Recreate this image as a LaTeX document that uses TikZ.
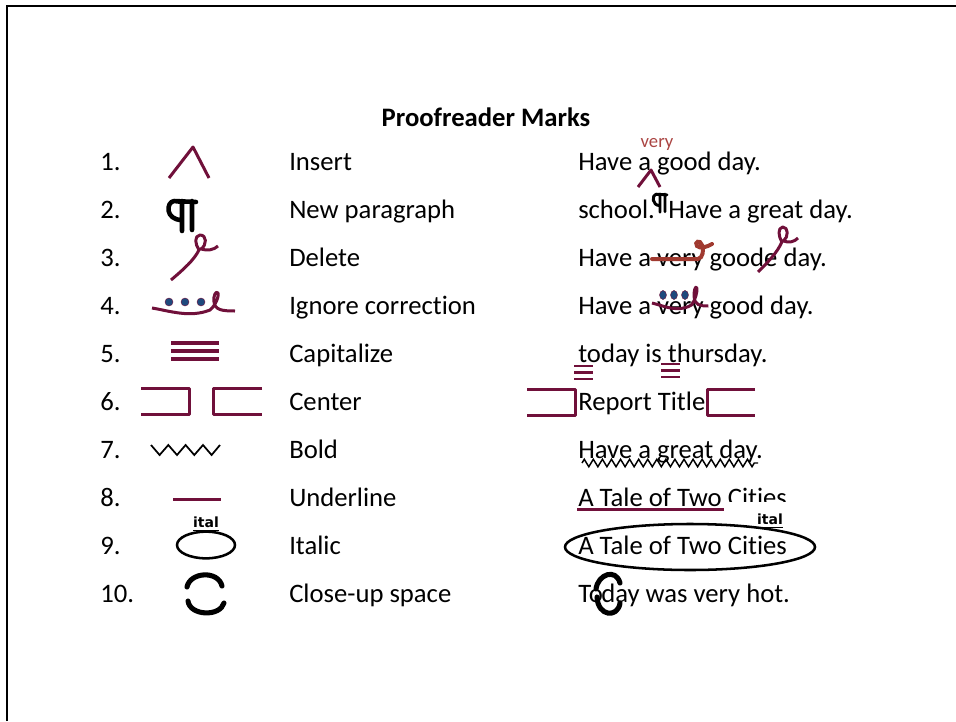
\documentclass[tikz,border=0pt]{standalone}
\usepackage{fontspec}
\setmainfont{Carlito}[Ligatures=CommonOff]
\newfontfamily\markfont{DejaVu Sans}
\usetikzlibrary{decorations.pathmorphing}
\definecolor{markred}{RGB}{112,16,58}
\definecolor{strikered}{RGB}{160,58,48}
\definecolor{dotblue}{RGB}{31,73,125}
\definecolor{insred}{RGB}{170,68,66}
\newcommand{\delpath}{(0,0) .. controls (13,-11) and (23,-20) .. (28,-30) .. controls (24,-36) and (23,-44) .. (29,-45) .. controls (36,-45) and (36,-35) .. (30,-31) .. controls (36,-29) and (43,-30) .. (47,-34)}
\newcommand{\parapath}{(17,3) -- (8,2) .. controls (0,3) and (-1,21) .. (16,21) (16,2) -- (16,32) (26,2) -- (26,31) (8,2) -- (30,3)}
\newcommand{\ignpath}{(0,0) .. controls (18,3) and (38,10) .. (58,2) .. controls (64,-3) and (67,-12) .. (66,-15) .. controls (64,-18) and (61,-12) .. (62,-6) .. controls (63,2) and (70,3) .. (83,3)}

\begin{document}
\begin{tikzpicture}[x=0.75pt, y=-0.75pt,
  txt/.style={inner sep=0pt, anchor=base west, font=\fontsize{20}{24}\selectfont},
  mk/.style={markred, line width=2.25pt, line join=round},
  blk/.style={black, line width=3.2pt, line cap=round, line join=round},
  dot/.style={fill=dotblue, draw=markred, line width=0.3pt}]
\useasboundingbox (0,0) rectangle (956,721);
\draw[line width=1.6pt] (7,721) -- (7,6) -- (956,6);
\node[inner sep=0pt, anchor=base, font=\bfseries\fontsize{20}{24}\selectfont] (title) at (486,126) {Proofreader Marks};
\node[txt] (n1) at (100,170) {1.};
\node[txt] (n2) at (100,218) {2.};
\node[txt] (n3) at (100,266) {3.};
\node[txt] (n4) at (100,314) {4.};
\node[txt] (n5) at (100,362) {5.};
\node[txt] (n6) at (100,410) {6.};
\node[txt] (n7) at (100,458) {7.};
\node[txt] (n8) at (100,506) {8.};
\node[txt] (n9) at (100,554) {9.};
\node[txt] (n10) at (100,602) {10.};
\node[txt] (d1) at (289,170) {Insert};
\node[txt] (d2) at (289,218) {New paragraph};
\node[txt] (d3) at (289,266) {Delete};
\node[txt] (d4) at (289,314) {Ignore correction};
\node[txt] (d5) at (289,362) {Capitalize};
\node[txt] (d6) at (289,410) {Center};
\node[txt] (d7) at (289,458) {Bold};
\node[txt] (d8) at (289,506) {Underline};
\node[txt] (d9) at (289,554) {Italic};
\node[txt] (d10) at (289,602) {Close-up space};
\draw[mk] (169,178) -- (193,147) -- (209,178);
\draw[blk, line width=3.4pt, shift={(166,199)}] \parapath;
\draw[mk, shift={(171,280)}] \delpath;
\draw[mk, shift={(152,308)}] \ignpath;
\fill[dot] (169,302) circle[radius=3pt] (185,302) circle[radius=3pt] (201,302) circle[radius=3pt];
\draw[mk, line width=2.4pt] (171,343) -- (219,343) (171,351) -- (219,351) (171,359) -- (219,359);
\draw[mk] (141,388) -- (189,388) -- (189,414) -- (141,414);
\draw[mk] (262,388) -- (213,388) -- (213,414) -- (262,414);
\draw[line width=1.3pt] (151,445) -- (159.6,455) -- (168.3,445) -- (177,455) -- (185.6,445) -- (194.3,455) -- (203,445) -- (211.6,455) -- (220,445);
\draw[mk] (173,499) -- (221,499);
\draw[line width=1.9pt] (206,545) ellipse[x radius=21.75pt, y radius=10pt];
\node[inner sep=0pt, font=\markfont\bfseries\fontsize{10.5}{12}\selectfont] (ital1) at (206,524) {\underline{ital}};
\draw[blk, line width=3.8pt] (187,587) .. controls (190,572) and (218,570) .. (222,586);
\draw[blk, line width=3.8pt] (188,601) .. controls (190,616) and (220,617) .. (224,603);
\node[txt] (e1) at (578,170) {Have a good day.};
\node[inner sep=0pt, anchor=base, text=insred, font=\fontsize{14}{16}\selectfont] (ins) at (657,147) {very};
\draw[mk] (638,187) -- (651,170) -- (660,187);
\node[txt] (e2a) at (578,218) {school.};
\node[txt] (e2b) at (668,218) {Have a great day.};
\draw[blk, line width=2.2pt, shift={(652,193)}, xscale=0.5, yscale=0.6] \parapath;
\node[txt] (e3) at (578,266) {Have a very goode day.};
\draw[strikered, line width=3pt, line cap=round] (652,259) -- (698,259) .. controls (703,258) and (704,250) .. (702,245) .. controls (700,239) and (694,242) .. (697,246) .. controls (700,249) and (707,247) .. (712,244);
\draw[mk, shift={(758,272)}, xscale=0.85] \delpath;
\node[txt] (e4) at (578,314) {Have a very good day.};
\draw[mk, shift={(652,303)}, xscale=0.68] \ignpath;
\fill[dot] (663,295) ellipse[x radius=2.6pt, y radius=3.4pt] (674,295) ellipse[x radius=2.6pt, y radius=3.4pt] (685,295) ellipse[x radius=2.6pt, y radius=3.4pt];
\node[txt] (e5) at (578,362) {today is thursday.};
\draw[mk, line width=2.1pt] (574,366) -- (593,366) (574,372.5) -- (593,372.5) (574,379) -- (593,379);
\draw[mk, line width=2.1pt] (661,364) -- (680,364) (661,370.5) -- (680,370.5) (661,377) -- (680,377);
\node[txt] (e6) at (578,410) {Report Title};
\draw[mk] (527,389) -- (575,389) -- (575,415) -- (527,415);
\draw[mk] (755,389) -- (707,389) -- (707,415) -- (755,415);
\node[txt] (e7) at (578,458) {Have a great day.};
\draw[decorate, decoration={zigzag, segment length=6.8pt, amplitude=2.8pt}, line width=1.1pt] (582,463) -- (758,463);
\node[txt] (e8) at (578,506) {A Tale of Two Cities};
\draw[mk] (577,509) -- (724,509);
\fill[white] (726,502) rectangle (794,533);
\node[inner sep=0pt, font=\markfont\bfseries\fontsize{10.5}{12}\selectfont] (ital2) at (770,521) {\underline{ital}};
\node[txt] (e9) at (578,554) {A Tale of Two Cities};
\draw[line width=1.9pt] (690,547) ellipse[x radius=93.75pt, y radius=17.25pt];
\node[txt] (e10a) at (578,602) {To};
\node[txt] (e10b) at (601,602) {day was very hot.};
\draw[blk, line width=3.8pt] (596,589) .. controls (598,574) and (616,568) .. (620,583);
\draw[blk, line width=3.8pt] (597,597) .. controls (598,617) and (618,618) .. (620,603);
\end{tikzpicture}
\end{document}
